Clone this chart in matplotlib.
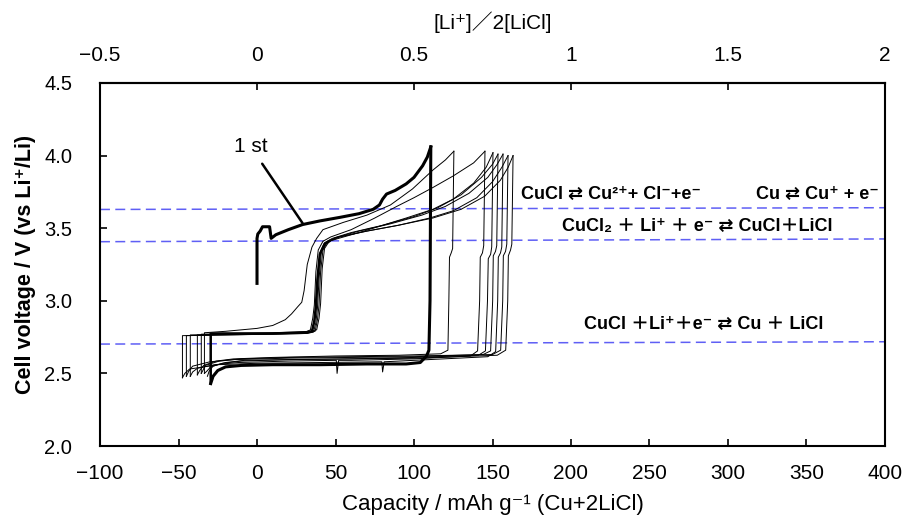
import matplotlib
matplotlib.use("Agg")
import matplotlib.pyplot as plt

# ---- data (capacity mAh/g, voltage V) ----
# cycle 1 (thick)
c1_chg_x = [0, 0, 0.5, 2, 3.5, 8, 9, 12, 20, 29, 40, 53, 65, 74, 78, 80, 82.5, 88, 95, 100, 105.5, 108.5, 110.7]
c1_chg_y = [3.12, 3.43, 3.46, 3.48, 3.51, 3.51, 3.43, 3.455, 3.49, 3.525, 3.55, 3.575, 3.60, 3.63, 3.66, 3.70, 3.735, 3.76, 3.805, 3.85, 3.93, 3.99, 4.06]
c1_dis_x = [110.7, 110.2, 109.5, 108, 104, 95, 70, 40, 10, -10, -20, -25, -28, -29.5]
c1_dis_y = [4.06, 3.0, 2.66, 2.62, 2.575, 2.565, 2.565, 2.56, 2.56, 2.555, 2.545, 2.52, 2.48, 2.43]

# later cycles
c2_chg_x = [-29.5, -29.5, -10, 10, 30, 35, 36.5, 37.5, 38.5, 40, 43, 46, 52, 65, 80, 95, 112, 125, 138, 146, 150.3]
c2_chg_y = [2.43, 2.775, 2.775, 2.775, 2.78, 2.79, 2.86, 2.96, 3.15, 3.32, 3.39, 3.41, 3.43, 3.47, 3.52, 3.57, 3.63, 3.70, 3.81, 3.92, 4.02]
c2_dis_x = [150.3, 149.5, 148.8, 147.3, 146.8, 145.5, 141, 100, 60, 20, -10, -22, -29.5, -32, -33.5]
c2_dis_y = [4.02, 3.37, 3.32, 3.29, 3.0, 2.655, 2.625, 2.61, 2.60, 2.595, 2.585, 2.57, 2.545, 2.515, 2.50]

c3_chg_x = [-33.5, -33.5, -20, 0, 10, 18, 22, 26, 28.5, 30, 32, 35, 38, 42, 55, 70, 85, 99, 112, 120, 125.4]
c3_chg_y = [2.50, 2.78, 2.79, 2.81, 2.83, 2.87, 2.91, 2.96, 2.99, 3.07, 3.25, 3.37, 3.43, 3.49, 3.54, 3.59, 3.66, 3.77, 3.90, 3.97, 4.03]
c3_dis_x = [125.4, 124.6, 123.7, 122.6, 122.2, 121.6, 117, 90, 50, 10, -15, -26, -34, -36.5, -38]
c3_dis_y = [4.03, 3.36, 3.33, 3.30, 3.0, 2.66, 2.635, 2.625, 2.62, 2.61, 2.60, 2.585, 2.555, 2.52, 2.49]

c4_chg_x = [-38, -38, -15, 10, 31, 34, 35.5, 36.5, 37.5, 39, 42, 47, 60, 75, 89, 100, 112, 125, 138, 145.2]
c4_chg_y = [2.49, 2.765, 2.77, 2.775, 2.785, 2.80, 2.88, 2.97, 3.2, 3.35, 3.41, 3.44, 3.49, 3.57, 3.65, 3.71, 3.78, 3.86, 3.95, 4.03]
c4_dis_x = [145.2, 144.4, 143.6, 142.2, 141.8, 140.5, 136, 100, 60, 52, 51, 50.5, 20, -12, -27, -38, -41, -42.5]
c4_dis_y = [4.03, 3.38, 3.33, 3.30, 3.0, 2.655, 2.62, 2.60, 2.59, 2.59, 2.50, 2.59, 2.585, 2.575, 2.56, 2.535, 2.51, 2.48]

c5_chg_x = [-42.5, -42.5, -20, 5, 30, 35, 36.5, 37.5, 38.5, 40, 43, 48, 60, 80, 100, 115, 130, 143, 150, 153.5]
c5_chg_y = [2.48, 2.765, 2.77, 2.775, 2.78, 2.79, 2.86, 2.94, 3.1, 3.33, 3.40, 3.43, 3.47, 3.52, 3.58, 3.64, 3.73, 3.85, 3.94, 4.01]
c5_dis_x = [153.5, 152.7, 151.9, 150.5, 150.1, 148.8, 144, 100, 60, 20, -15, -30, -41, -43.5, -45]
c5_dis_y = [4.01, 3.38, 3.34, 3.31, 3.0, 2.655, 2.63, 2.615, 2.61, 2.605, 2.595, 2.58, 2.55, 2.515, 2.48]

c6_chg_x = [-45, -45, -20, 5, 32, 36, 37.5, 38.5, 39.5, 41, 44, 50, 65, 85, 105, 120, 135, 147, 153, 156.7]
c6_chg_y = [2.48, 2.76, 2.765, 2.77, 2.775, 2.785, 2.85, 2.95, 3.15, 3.34, 3.40, 3.435, 3.48, 3.53, 3.59, 3.65, 3.74, 3.85, 3.94, 4.01]
c6_dis_x = [156.7, 155.9, 155.1, 153.7, 153.3, 152, 147, 100, 81, 80, 79.5, 40, 0, -25, -43, -46, -47.5]
c6_dis_y = [4.01, 3.37, 3.33, 3.30, 3.0, 2.65, 2.615, 2.59, 2.58, 2.51, 2.58, 2.575, 2.57, 2.56, 2.53, 2.50, 2.47]

c7_chg_x = [-47.5, -47.5, -20, 10, 33, 37, 38.5, 39.5, 40.5, 42, 45, 52, 70, 90, 110, 125, 140, 150, 156, 159.9]
c7_chg_y = [2.47, 2.76, 2.765, 2.77, 2.78, 2.79, 2.87, 2.97, 3.2, 3.35, 3.41, 3.44, 3.48, 3.52, 3.57, 3.62, 3.71, 3.82, 3.92, 4.00]
c7_dis_x = [159.9, 159.1, 158.3, 156.9, 156.5, 155.2, 150, 100, 60, 20, -10, -24, -33, -34.5, -35.5]
c7_dis_y = [4.00, 3.39, 3.34, 3.31, 3.0, 2.66, 2.63, 2.62, 2.615, 2.61, 2.60, 2.585, 2.555, 2.52, 2.50]

c8_chg_x = [-35.5, -35.5, -15, 10, 34, 38, 39.5, 40.5, 41.5, 43, 46, 53, 70, 90, 112, 130, 145, 155, 160, 163.1]
c8_chg_y = [2.50, 2.77, 2.775, 2.78, 2.79, 2.80, 2.88, 2.98, 3.22, 3.36, 3.41, 3.44, 3.48, 3.52, 3.57, 3.63, 3.72, 3.83, 3.92, 4.00]
c8_dis_x = [163.1, 162.3, 161.5, 160.1, 159.7, 158.4, 153, 100, 60, 20, -8, -20, -28, -30.5, -31.6]
c8_dis_y = [4.00, 3.39, 3.35, 3.31, 3.0, 2.66, 2.625, 2.605, 2.60, 2.595, 2.59, 2.575, 2.55, 2.515, 2.48]

# reference potentials (dashed lines, left end / right end)
ref_x = [-100, 400]
ref_cucl2 = [3.629, 3.641]
ref_cucl = [3.407, 3.426]
ref_cu = [2.702, 2.718]

x_ticks = [-100, -50, 0, 50, 100, 150, 200, 250, 300, 350, 400]
y_ticks = [2.0, 2.5, 3.0, 3.5, 4.0, 4.5]
top_ticks = [-0.5, 0, 0.5, 1, 1.5, 2]
top_labels = ["\u22120.5", "0", "0.5", "1", "1.5", "2"]

fig = plt.figure(figsize=(9.06, 5.17), dpi=100)
ax = fig.add_axes([0.1104, 0.1373, 0.8664, 0.7022])

for xs, ys in [(ref_x, ref_cucl2), (ref_x, ref_cucl), (ref_x, ref_cu)]:
    ax.plot(xs, ys, color="#5f5ff5", lw=1.1, dashes=(6.5, 3.5), zorder=1)

thin = [(c2_chg_x, c2_chg_y), (c2_dis_x, c2_dis_y), (c3_chg_x, c3_chg_y), (c3_dis_x, c3_dis_y),
        (c4_chg_x, c4_chg_y), (c4_dis_x, c4_dis_y), (c5_chg_x, c5_chg_y), (c5_dis_x, c5_dis_y),
        (c6_chg_x, c6_chg_y), (c6_dis_x, c6_dis_y), (c7_chg_x, c7_chg_y), (c7_dis_x, c7_dis_y),
        (c8_chg_x, c8_chg_y), (c8_dis_x, c8_dis_y)]
for xs, ys in thin:
    ax.plot(xs, ys, color="black", lw=0.7, zorder=2)

ax.plot(c1_chg_x, c1_chg_y, color="black", lw=2.2, zorder=3)
ax.plot(c1_dis_x, c1_dis_y, color="black", lw=2.2, zorder=3)
ax.plot(c2_chg_x[:12], c2_chg_y[:12], color="black", lw=1.8, zorder=3)

# "1st" label with leader line
ax.annotate("1 st", xy=(29, 3.535), xytext=(-4, 4.06), fontsize=15,
            family="Liberation Sans", ha="center", va="center",
            arrowprops=dict(arrowstyle="-", color="black", lw=1.8, shrinkA=4, shrinkB=0))

tfont = dict(family=["Liberation Sans", "DejaVu Sans", "Noto Sans CJK JP"], fontsize=13, fontweight="bold")
ax.text(168, 3.735, "CuCl \u21c4 Cu\u00b2\u207a+ Cl\u207b+e\u207b", ha="left", va="center", **tfont)
ax.text(396, 3.735, "Cu \u21c4 Cu\u207a + e\u207b", ha="right", va="center", **tfont)
ax.text(194, 3.51, "CuCl\u2082 \uff0b Li\u207a \uff0b e\u207b \u21c4 CuCl\uff0bLiCl", ha="left", va="center", **tfont)
ax.text(208, 2.84, "CuCl \uff0bLi\u207a\uff0be\u207b \u21c4 Cu \uff0b LiCl", ha="left", va="center", **tfont)

ax.set_xlim(-100, 400)
ax.set_ylim(2.0, 4.5)
ax.tick_params(direction="in", length=5, width=1.2, top=False, right=False)
ax.tick_params(axis="x", pad=13, labelsize=15, labelfontfamily="Liberation Sans")
ax.tick_params(axis="y", pad=20, labelsize=14.5, labelfontfamily="Liberation Sans")
ax.set_xticks(x_ticks)
ax.set_xticklabels([str(v).replace("-", "\u2212") for v in x_ticks])
ax.set_yticks(y_ticks)
ax.set_yticklabels(["%.1f" % v for v in y_ticks])
for s in ax.spines.values():
    s.set_linewidth(1.5)

top = ax.secondary_xaxis("top", functions=(lambda c: c / 200, lambda r: r * 200))
top.tick_params(direction="in", length=5, width=1.2, pad=13, labelsize=15, labelfontfamily="Liberation Sans")
top.set_xticks(top_ticks)
top.set_xticklabels(top_labels)
top.spines["top"].set_linewidth(1.5)
top.set_xlabel("[Li\u207a]\uff0f2[LiCl]", family=["Liberation Sans", "DejaVu Sans", "Noto Sans CJK JP"],
               fontsize=15, labelpad=12)

ax.set_xlabel("Capacity / mAh g\u207b\u00b9 (Cu+2LiCl)", family=["Liberation Sans", "DejaVu Sans"],
              fontsize=16, labelpad=8)
ax.set_ylabel("Cell voltage / V (vs Li\u207a/Li)", family=["Liberation Sans", "DejaVu Sans"], fontsize=15.5,
              fontweight="bold", labelpad=6)

fig.savefig("out.png", dpi=100)
